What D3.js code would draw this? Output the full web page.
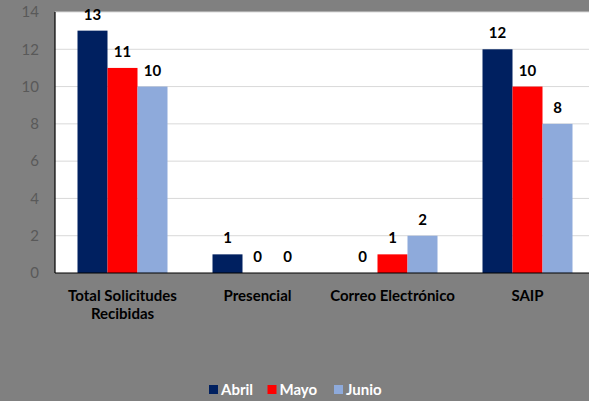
<!DOCTYPE html>
<html><head><meta charset="utf-8">
<script src="https://cdn.jsdelivr.net/npm/d3@7"></script>
<style>
html,body{margin:0;padding:0;background:#808080;overflow:hidden}
svg{display:block}
text{font-family:Lato,"Open Sans",sans-serif}
</style></head>
<body>
<svg id="c" width="589" height="401"></svg>
<script>
const categories = [["Total Solicitudes","Recibidas"],["Presencial"],["Correo Electrónico"],["SAIP"]];
const seriesNames = ["Abril","Mayo","Junio"];
const abril = [13,1,0,12];
const mayo = [11,0,1,10];
const junio = [10,0,2,8];
const colors = ["#002060","#ff0000","#8eaadb"];
const yTicks = [0,2,4,6,8,10,12,14];

const svg = d3.select("#c");
const m = {l:55, t:12, w:540, h:261};
const x = d3.scaleBand().domain(d3.range(categories.length)).range([m.l, m.l+m.w]).paddingInner(0).paddingOuter(0);
const y = d3.scaleLinear().domain([0,14]).range([m.t+m.h, m.t]);
const xs = d3.scaleBand().domain(seriesNames).range([22.5, x.bandwidth()-22.5]).paddingInner(0).paddingOuter(0);

svg.append("rect").attr("x",m.l).attr("y",m.t).attr("width",m.w).attr("height",m.h).attr("fill","#fff");

svg.append("g").selectAll("line").data(yTicks.filter(d=>d>0)).join("line")
  .attr("x1",m.l).attr("x2",m.l+m.w).attr("y1",d=>y(d)).attr("y2",d=>y(d))
  .attr("stroke","#d9d9d9").attr("stroke-width",1);

const yAxis = svg.append("g").attr("transform",`translate(${m.l},0)`)
  .call(d3.axisLeft(y).tickValues(yTicks).tickSize(0).tickPadding(16));
yAxis.select(".domain").remove();
yAxis.selectAll("text").attr("fill","#595959").attr("font-size","15px").style("font-family","Lato,sans-serif");

const data = [abril,mayo,junio];
seriesNames.forEach((s,si)=>{
  const g = svg.append("g");
  g.selectAll("rect").data(data[si]).join("rect")
    .attr("x",(d,i)=>x(i)+xs(s)).attr("width",xs.bandwidth())
    .attr("y",d=>y(d)).attr("height",d=>y(0)-y(d)).attr("fill",colors[si]);
  g.selectAll("text").data(data[si]).join("text")
    .attr("x",(d,i)=>x(i)+xs(s)+xs.bandwidth()/2).attr("y",d=>y(d)-11)
    .attr("text-anchor","middle").attr("font-size","15px").attr("font-weight","bold").attr("fill","#000")
    .text(d=>d);
});

svg.append("line").attr("x1",m.l).attr("x2",m.l).attr("y1",m.t).attr("y2",m.t+m.h).attr("stroke","#000").attr("stroke-width",1.2);
svg.append("line").attr("x1",m.l).attr("x2",m.l+m.w).attr("y1",m.t+m.h).attr("y2",m.t+m.h).attr("stroke","#000").attr("stroke-width",1.2);

const cl = svg.append("g");
categories.forEach((c,i)=>{
  const t = cl.append("text").attr("x",x(i)+x.bandwidth()/2).attr("y",301)
    .attr("text-anchor","middle").attr("font-size","15px").attr("font-weight","bold").attr("fill","#000");
  c.forEach((line,li)=>t.append("tspan").attr("x",x(i)+x.bandwidth()/2).attr("dy",li?18:0).text(line));
});

const legX = [209,267.5,334];
const lg = svg.append("g");
seriesNames.forEach((s,i)=>{
  lg.append("rect").attr("x",legX[i]).attr("y",385).attr("width",9).attr("height",9).attr("fill",colors[i]);
  lg.append("text").attr("x",legX[i]+12).attr("y",395).attr("font-size","15px").attr("font-weight","bold").attr("fill","#fff").text(s);
});
</script>
</body></html>
